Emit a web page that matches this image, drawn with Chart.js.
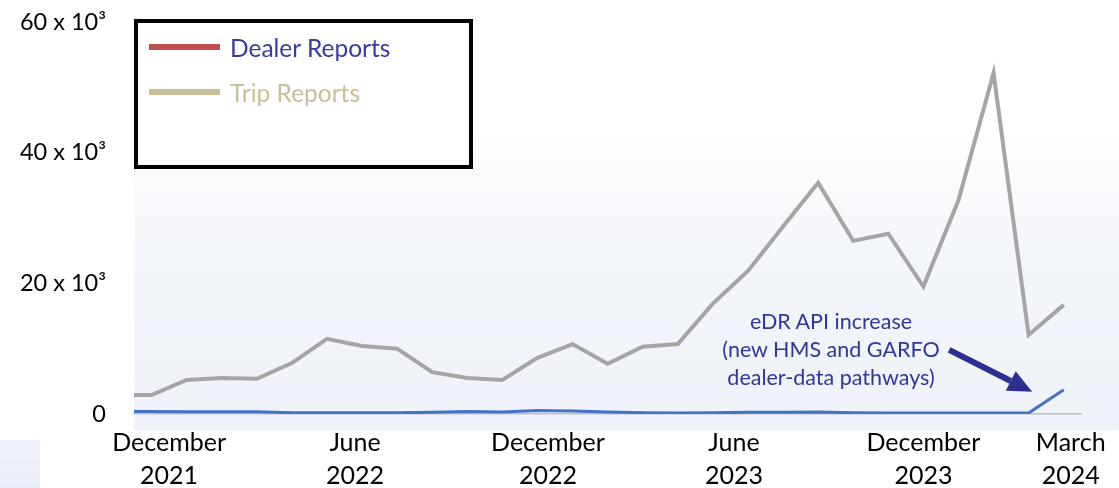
<!DOCTYPE html>
<html><head><meta charset="utf-8">
<script src="https://cdn.jsdelivr.net/npm/chart.js@4/dist/chart.umd.min.js"></script>
<style>
html,body{margin:0;padding:0;background:#fff;}
#wrap{position:relative;width:1119px;height:488px;overflow:hidden;font-family:Lato,"Noto Sans",sans-serif;}
#c{position:absolute;left:0;top:0;}
#legend{position:absolute;left:134px;top:19px;width:339px;height:150px;box-sizing:border-box;border:4px solid #000;background:rgba(255,255,255,0.92);}
.li{position:absolute;left:0;height:30px;display:flex;align-items:center;font-size:24.5px;}
.li span.sw{display:inline-block;width:71px;height:6px;margin-left:11px;margin-right:10px;}
#note{position:absolute;left:706px;top:307px;width:250px;text-align:center;color:#30369a;font-size:21.5px;line-height:28px;}
</style></head>
<body>
<div id="wrap">
<canvas id="c" width="1119" height="488"></canvas>
<div id="legend"></div>
<div id="note"></div>
</div>
<script>
// ---- data (values in reports per month) ----
const months = ["Nov 2021","Dec 2021","Jan 2022","Feb 2022","Mar 2022","Apr 2022","May 2022","Jun 2022","Jul 2022","Aug 2022","Sep 2022","Oct 2022","Nov 2022","Dec 2022","Jan 2023","Feb 2023","Mar 2023","Apr 2023","May 2023","Jun 2023","Jul 2023","Aug 2023","Sep 2023","Oct 2023","Nov 2023","Dec 2023","Jan 2024","Feb 2024"];
const tripReports = [2900,2900,5200,5500,5400,7800,11500,10400,10000,6400,5500,5200,8600,10700,7700,10300,10700,16900,21900,28700,35400,26500,27600,19500,32700,52200,12100,16700];
const dealerReports = [400,400,350,350,350,200,200,200,200,250,400,300,550,450,300,200,150,200,250,250,300,200,150,150,150,150,150,3700];
const tickPositions = [0.5,5.8,11.3,16.6,22,26.2];
const tickLabels = [["December","2021"],["June","2022"],["December","2022"],["June","2023"],["December","2023"],["March","2024"]];
const seriesNames = ["Dealer Reports","Trip Reports"];
const noteLines = ["eDR API increase","(new HMS and GARFO","dealer-data pathways)"];

const FONT = 'Lato, "Noto Sans", sans-serif';
const xOf = i => i - 1;

const bgPlugin = {
  id:'bg',
  beforeDraw(chart){
    const ctx = chart.ctx, a = chart.chartArea;
    ctx.save();
    ctx.fillStyle = '#fff'; ctx.fillRect(0,0,chart.width,chart.height);
    const g = ctx.createLinearGradient(0,130,0,430);
    g.addColorStop(0,'rgba(243,246,251,0)');
    g.addColorStop(0.4,'rgba(243,246,251,1)');
    g.addColorStop(1,'rgba(239,243,249,1)');
    ctx.fillStyle = g; ctx.fillRect(a.left,130,chart.width-a.left,300);
    const g2 = ctx.createLinearGradient(0,440,0,488);
    g2.addColorStop(0,'#f0f4fa'); g2.addColorStop(1,'#e8eef7');
    ctx.fillStyle = g2; ctx.fillRect(0,440,40,48);
    ctx.restore();
  }
};

const arrowPlugin = {
  id:'arrow',
  afterDatasetsDraw(chart){
    const ctx = chart.ctx, xs = chart.scales.x, ys = chart.scales.y;
    const n = dealerReports.length - 1;
    const tx = xs.getPixelForValue(xOf(n) - 0.9), ty = ys.getPixelForValue(dealerReports[n]) + 2;
    const sx = tx - 83, sy = ty - 42;
    const ang = Math.atan2(ty-sy, tx-sx);
    const head = 24, hw = 11;
    const bx = tx - head*Math.cos(ang), by = ty - head*Math.sin(ang);
    ctx.save();
    ctx.strokeStyle = '#2b2f8f'; ctx.fillStyle = '#2b2f8f';
    ctx.lineWidth = 6; ctx.lineCap = 'butt';
    ctx.beginPath(); ctx.moveTo(sx,sy); ctx.lineTo(bx,by); ctx.stroke();
    ctx.beginPath();
    ctx.moveTo(tx,ty);
    ctx.lineTo(bx + hw*Math.sin(ang), by - hw*Math.cos(ang));
    ctx.lineTo(bx - hw*Math.sin(ang), by + hw*Math.cos(ang));
    ctx.closePath(); ctx.fill();
    ctx.restore();
  }
};

const chart = new Chart(document.getElementById('c'), {
  type:'line',
  data:{
    datasets:[
      {label:seriesNames[1], data:tripReports.map((v,i)=>({x:xOf(i),y:v})), borderColor:'#a5a5a5', borderWidth:4, pointRadius:0, tension:0, clip:0},
      {label:seriesNames[0], data:dealerReports.map((v,i)=>({x:xOf(i),y:v})), borderColor:'#4472c4', borderWidth:3, pointRadius:0, tension:0, clip:0}
    ]
  },
  options:{
    responsive:false, animation:false,
    layout:{padding:{left:0,right:36,top:22,bottom:0}},
    plugins:{legend:{display:false}, tooltip:{enabled:false}},
    scales:{
      x:{type:'linear', min:-0.5, max:26.5,
        grid:{display:false, drawTicks:false},
        border:{display:true,color:'#bfbfbf',width:1.5},
        afterBuildTicks(s){ s.ticks = tickPositions.map(v=>({value:v})); },
        afterFit(s){ s.height = 74; s.paddingTop = 0; s.paddingBottom = 0; },
        ticks:{autoSkip:false, maxRotation:0, padding:13, color:'#000',
          font:{family:FONT,size:25,lineHeight:1.3},
          callback:(v,i)=>tickLabels[i]}
      },
      y:{min:0,max:60000,
        grid:{display:false, drawTicks:false},
        border:{display:false},
        afterFit(s){ s.width = 134; s.paddingTop = 0; s.paddingBottom = 0; },
        ticks:{stepSize:20000, padding:28, color:'#000', font:{family:FONT,size:23.5},
          callback:v => v===0 ? '0' : (v/1000)+' x 10³'}
      }
    }
  },
  plugins:[bgPlugin, arrowPlugin]
});

const legendColors = ['#c0504d','#c8bf9a'];
const legendText = ['#3a3aa0','#c8bf9a'];
const lg = document.getElementById('legend');
seriesNames.forEach((name,i)=>{
  const d = document.createElement('div');
  d.className='li'; d.style.top = (9 + i*45) + 'px';
  d.innerHTML = '<span class="sw" style="background:'+legendColors[i]+'"></span><span style="color:'+legendText[i]+'">'+name+'</span>';
  lg.appendChild(d);
});
document.getElementById('note').innerHTML = noteLines.join('<br>');
</script>
</body></html>
